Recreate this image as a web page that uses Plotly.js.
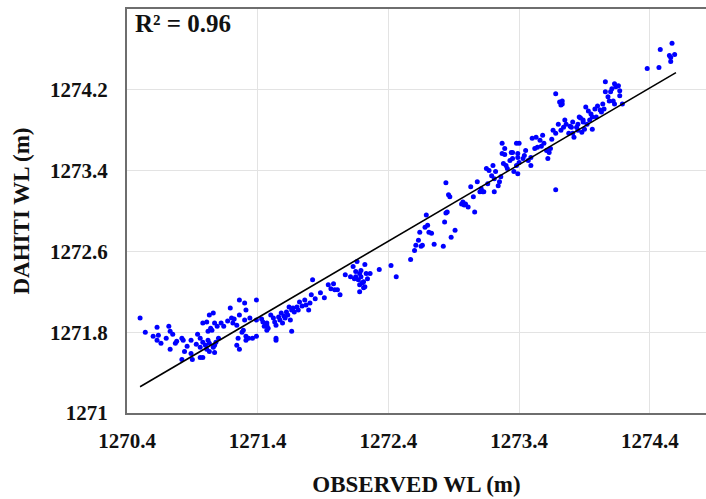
<!DOCTYPE html>
<html>
<head>
<meta charset="utf-8">
<script src="https://cdn.plot.ly/plotly-3.0.1.min.js"></script>
<style>html,body{margin:0;padding:0;background:#fff;}#chart{width:706px;height:499px;}</style>
</head>
<body>
<div id="chart"></div>
<script>
// Observed water level (m)
const observedWL = [
1270.50,1270.54,1270.63,1270.60,1270.64,1270.63,1270.66,1270.72,1270.73,1270.75,1270.77,1270.73,1270.82,1270.83,1270.84,1270.89,1270.89,1270.90,1270.82,
1270.96,1270.98,1271.00,1271.02,1271.03,1271.06,1271.01,1271.03,1270.96,1271.07,1270.93,1270.98,
1270.98,1271.01,1271.03,1271.06,1271.07,1271.05,1271.02,1271.09,1271.12,1271.14,1271.10,1271.07,
1271.19,1271.26,1271.30,1271.31,1271.26,1271.21,1271.24,1271.30,1271.34,1271.39,1271.29,1271.31,1271.25,1271.24,1271.26,1271.31,1271.39,1271.17,1271.20,
1271.39,1271.36,1271.44,1271.45,1271.48,1271.47,
1271.52,1271.53,1271.54,1271.56,1271.57,1271.58,1271.59,1271.61,1271.62,1271.63,1271.65,1271.66,1271.68,1271.70,1271.71,1271.72,1271.76,1271.77,1271.79,1271.80,1271.81,
1271.54,1271.66,1271.82,1271.91,1271.94,1271.96,1271.98,1271.99,1272.01,1272.03,1272.07,
1272.13,1272.15,1272.18,1272.15,1272.17,1272.19,1272.21,1272.18,1272.22,1272.18,1272.21,1272.23,1272.22,1272.26,1272.14,1272.11,
1272.33,1272.42,1272.46,1272.16,1271.33,1271.47,1271.47,1271.54,1271.67,1270.96,1270.78,
1272.57,1272.60,1272.61,1272.63,1272.65,1272.66,1272.64,1272.68,1272.69,1272.70,1272.71,1272.73,1272.75,1272.82,1272.83,1272.84,1272.85,1272.86,1272.87,1272.84,1272.88,1272.91,
1272.96,1272.98,1272.99,1272.97,1273.01,1273.03,1273.06,1273.08,1273.10,1273.12,1273.13,1273.15,1273.17,1273.19,1273.20,1273.21,1273.22,1273.24,1273.21,1273.25,1273.28,1273.30,1273.33,1273.35,1273.38,1273.36,1273.39,1273.29,1273.34,1273.39,
1273.68,1273.71,1273.72,1273.73,1273.73,1273.68,
1273.27,1273.29,1273.27,1273.35,1273.38,1273.40,1273.39,1273.40,1273.43,1273.45,1273.47,1273.49,1273.49,1273.50,1273.53,1273.56,1273.54,1273.58,1273.59,1273.61,1273.62,1273.63,1273.64,
1273.66,1273.68,1273.70,1273.72,1273.75,1273.76,1273.78,1273.80,1273.81,1273.82,1273.84,1273.85,1273.86,1273.89,1273.90,1273.91,1273.92,1273.94,1273.95,1273.98,1273.99,1274.00,
1274.38,1274.47,1274.48,1274.57,1274.55,1274.56,1274.59,1274.56,
1274.06,1274.13,1274.16,1274.17,1274.14,1274.10,1274.06,1274.08,1274.09,1274.12,1274.13,1274.04,1274.05,1274.03,1273.96,1273.89,1273.85,1273.81,1273.88,1273.96,1274.17,1274.19,
1270.70,1270.86,1270.94,1271.04,1271.08,1271.22,1271.28,1271.43,1271.50,1271.60,1271.64,1271.74,1271.84,1271.88,1272.20,1272.24,1272.19,
1273.05,1273.11,1273.16,1273.26,1273.31,1273.44,1273.52,1273.57,1273.65,1273.74,1273.79,1273.87,1273.93,1274.02,1274.11
];
// DAHITI water level (m)
const dahitiWL = [
1271.94,1271.80,1271.85,1271.76,1271.77,1271.72,1271.69,1271.86,1271.81,1271.78,1271.69,1271.63,1271.74,1271.72,1271.61,1271.72,1271.59,1271.53,1271.53,
1271.74,1271.70,1271.67,1271.72,1271.69,1271.65,1271.63,1271.61,1271.65,1271.67,1271.68,1271.55,
1271.89,1271.90,1271.97,1271.99,1271.89,1271.82,1271.81,1271.86,1271.89,1271.86,1271.74,1271.60,
1272.04,1272.12,1272.09,1272.02,1271.97,1271.89,1271.87,1271.92,1271.94,1272.12,1271.82,1271.76,1271.74,1271.67,1271.63,1271.72,1271.92,1271.91,1271.94,
1271.76,1271.74,1271.90,1271.86,1271.84,1271.89,
1271.94,1271.90,1271.87,1271.95,1271.92,1271.99,1271.89,1271.94,1272.00,1271.97,1271.92,1272.02,1272.00,1272.05,1272.02,1272.10,1272.12,1272.07,1272.02,1272.09,1272.17,
1271.74,1271.81,1272.32,1272.14,1272.27,1272.23,1272.28,1272.22,1272.22,1272.17,1272.37,
1272.45,1272.40,1272.38,1272.35,1272.32,1272.35,1272.30,1272.27,1272.25,1272.20,1272.24,1272.38,1272.47,1272.38,1272.33,1272.35,
1272.42,1272.46,1272.35,1272.50,1271.74,1271.87,1271.82,1271.72,1272.04,1271.55,1271.71,
1272.52,1272.61,1272.66,1272.71,1272.65,1272.66,1272.79,1272.84,1272.96,1272.86,1272.79,1272.78,1272.67,1272.65,1272.89,1272.98,1272.99,1273.16,1273.14,1273.28,1272.74,1272.81,
1273.07,1273.06,1273.07,1273.09,1273.04,1273.24,1272.99,1273.29,1273.19,1273.19,1273.19,1273.42,1273.40,1273.35,1273.45,1273.32,1273.39,1273.25,1273.19,1273.29,1273.47,1273.45,1273.50,1273.52,1273.45,1273.39,1273.37,1273.56,1273.58,1273.57,
1274.16,1274.08,1274.05,1274.06,1274.09,1273.21,
1273.67,1273.62,1273.57,1273.58,1273.67,1273.67,1273.53,1273.48,1273.52,1273.60,1273.50,1273.53,1273.45,1273.72,1273.73,1273.70,1273.63,1273.75,1273.67,1273.60,1273.52,1273.58,1273.62,
1273.80,1273.77,1273.86,1273.80,1273.90,1273.86,1273.77,1273.83,1273.88,1273.73,1273.83,1273.86,1273.93,1273.90,1273.81,1274.03,1273.86,1273.90,1273.96,1274.01,1273.93,1274.04,
1274.41,1274.42,1274.60,1274.66,1274.54,1274.52,1274.55,1274.48,
1274.28,1274.26,1274.24,1274.19,1274.23,1274.18,1274.18,1274.13,1274.09,1274.09,1274.06,1274.06,1274.01,1273.98,1273.93,1273.88,1273.80,1273.77,1273.78,1273.81,1274.14,1274.06,
1271.74,1271.66,1271.78,1271.84,1271.70,1271.93,1271.80,1271.93,1271.97,1271.96,1272.05,1272.06,1272.13,1272.19,1272.29,1272.33,1272.41,
1273.14,1273.22,1273.27,1273.34,1273.42,1273.55,1273.62,1273.64,1273.71,1273.83,1273.84,1273.92,1273.99,1274.00,1274.21
];
// Linear trend line end points
const trendX = [1270.50, 1274.60];
const trendY = [1271.26, 1274.37];
// Tick labels
const xTickVals = [1270.4, 1271.4, 1272.4, 1273.4, 1274.4];
const xTickText = ['1270.4', '1271.4', '1272.4', '1273.4', '1274.4'];
const yTickVals = [1271, 1271.8, 1272.6, 1273.4, 1274.2];
const yTickText = ['1271', '1271.8', '1272.6', '1273.4', '1274.2'];
const r2Label = 'R² = 0.96';

const serif = "'Liberation Serif', 'Times New Roman', serif";
const traces = [
  {x: observedWL, y: dahitiWL, type: 'scatter', mode: 'markers',
   marker: {color: '#0000ff', size: 5, line: {width: 0}}, hoverinfo: 'x+y'},
  {x: trendX, y: trendY, type: 'scatter', mode: 'lines',
   line: {color: '#000000', width: 1.6}}
];
const layout = {
  width: 706, height: 499,
  margin: {l: 127, r: 0, t: 9, b: 86},
  showlegend: false,
  paper_bgcolor: '#ffffff', plot_bgcolor: '#ffffff',
  font: {family: serif, color: '#111111'},
  xaxis: {
    range: [1270.4, 1274.83], tickvals: xTickVals, ticktext: xTickText,
    showgrid: true, gridcolor: '#e3e3e3', gridwidth: 1,
    zeroline: false, showline: true, linecolor: '#6e6e6e', linewidth: 2, mirror: true,
    ticks: 'outside', ticklen: 8, tickcolor: 'rgba(0,0,0,0)',
    tickfont: {family: serif, size: 21, color: '#111111', weight: 'bold'},
    title: {text: 'OBSERVED WL (m)', font: {family: serif, size: 23, color: '#111111', weight: 'bold'}, standoff: 24}
  },
  yaxis: {
    range: [1271, 1275], tickvals: yTickVals, ticktext: yTickText,
    showgrid: true, gridcolor: '#e3e3e3', gridwidth: 1,
    zeroline: false, showline: true, linecolor: '#6e6e6e', linewidth: 2, mirror: false,
    ticks: 'outside', ticklen: 13, tickcolor: 'rgba(0,0,0,0)',
    tickfont: {family: serif, size: 21, color: '#111111', weight: 'bold'},
    title: {text: 'DAHITI WL (m)', font: {family: serif, size: 23, color: '#111111', weight: 'bold'}, standoff: 14}
  },
  annotations: [{
    text: r2Label, xref: 'paper', yref: 'paper', x: 0.01, y: 0.965,
    xanchor: 'left', yanchor: 'middle', showarrow: false,
    font: {family: serif, size: 25, color: '#111111', weight: 'bold'}
  }]
};
Plotly.newPlot('chart', traces, layout, {displayModeBar: false, staticPlot: true});
</script>
</body>
</html>
